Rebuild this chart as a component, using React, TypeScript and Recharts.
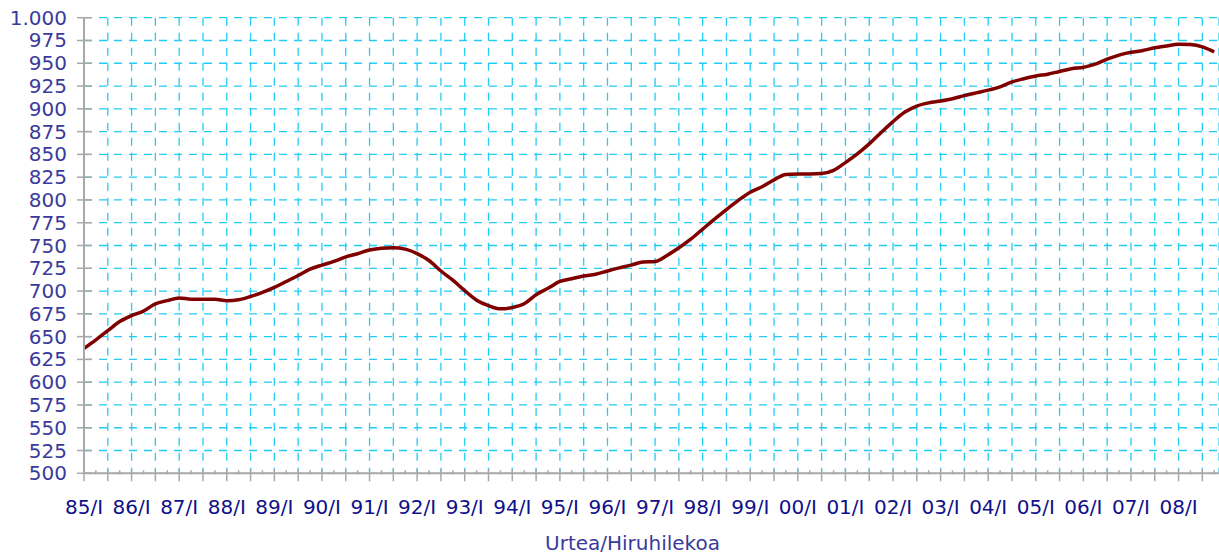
import { LineChart, Line, XAxis, YAxis, CartesianGrid } from 'recharts';

// quarterly series, 85/I .. 08/IV
const years = [
  '85', '86', '87', '88', '89', '90', '91', '92', '93', '94', '95', '96',
  '97', '98', '99', '00', '01', '02', '03', '04', '05', '06', '07', '08',
];
const quarterNames = ['I', 'II', 'III', 'IV'];

const indexValues = [
  637, 646.5, 656.5, 666.5, 673, 678, 686, 689.5,
  692.5, 691, 691, 691, 689.5, 690.5, 694, 698.5,
  704, 710.5, 717, 724, 728.5, 732.5, 737.5, 741,
  745, 747, 747.5, 746, 741, 733.5, 722, 712,
  700.5, 690, 684, 680.5, 682, 686, 696, 703,
  710.5, 713.5, 716.5, 718.5, 722, 725.5, 728.5, 732,
  732.5, 739, 747.5, 757, 768, 779, 789.5, 799.5,
  808.5, 814.5, 822, 828, 828.5, 828.5, 829, 832.5,
  841, 850.5, 861.5, 874, 886, 896.5, 903, 906.5,
  908.5, 911, 914.5, 917.5, 920.5, 924, 929.5, 933,
  936, 938, 941, 944, 945.5, 949, 954.5, 959,
  962, 964, 967, 969, 971, 970.5, 968, 962.5,
];

const yTicks = [
  500, 525, 550, 575, 600, 625, 650, 675, 700, 725, 750,
  775, 800, 825, 850, 875, 900, 925, 950, 975, 1000,
];

const data = indexValues.map((value, i) => ({
  idx: i,
  period: `${years[Math.floor(i / 4)]}/${quarterNames[i % 4]}`,
  value,
}));

const allTicks = data.map((d) => d.idx);
const gridTicks = allTicks.filter((t) => t % 2 === 0);

const FONT = '"DejaVu Sans", Verdana, sans-serif';
const AXIS_GRAY = '#a8a8a8';
const GRID_CYAN = '#22ccf5';

const fmt = (v: number) => String(v).replace(/\B(?=(\d{3})+(?!\d))/g, '.');

function QuarterTick({ x, y, payload }: any) {
  const i = payload.value as number;
  const major = i % 2 === 0;
  return (
    <g>
      <line
        x1={x}
        x2={x}
        y1={major ? y - 4 : y - 3}
        y2={major ? y + 8 : y + 1}
        stroke={AXIS_GRAY}
        strokeWidth={1.5}
      />
      {i % 4 === 0 && (
        <text
          x={x}
          y={y + 41}
          textAnchor="middle"
          fill="#10108a"
          fontSize={20}
          fontFamily={FONT}
        >
          {data[i].period}
        </text>
      )}
    </g>
  );
}

function ValueTick({ x, y, payload }: any) {
  return (
    <g>
      <line x1={x - 7} x2={x + 8} y1={y} y2={y} stroke={AXIS_GRAY} strokeWidth={1.5} />
      <text
        x={x - 17}
        y={y + 7}
        textAnchor="end"
        fill="#3a3a9c"
        fontSize={20}
        fontFamily={FONT}
      >
        {fmt(payload.value)}
      </text>
    </g>
  );
}

export default function App() {
  return (
    <div
      style={{
        position: 'absolute',
        left: 0,
        top: 0,
        width: 1219,
        height: 554,
        overflow: 'hidden',
        background: '#fff',
      }}
    >
      <LineChart
        width={1219}
        height={554}
        data={data}
        margin={{ top: 17.7, right: 0, bottom: 0, left: 0 }}
      >
        <CartesianGrid
          xAxisId="grid"
          stroke={GRID_CYAN}
          strokeWidth={1.3}
          strokeDasharray="8 7"
        />
        <XAxis
          xAxisId="grid"
          dataKey="idx"
          type="number"
          domain={[0, 95.4]}
          ticks={gridTicks}
          interval={0}
          hide
        />
        <XAxis
          dataKey="idx"
          type="number"
          domain={[0, 95.4]}
          ticks={allTicks}
          interval={0}
          height={80.7}
          tickSize={0}
          tickMargin={0}
          tickLine={false}
          axisLine={{ stroke: AXIS_GRAY, strokeWidth: 2 }}
          tick={<QuarterTick />}
          label={{
            value: 'Urtea/Hiruhilekoa',
            position: 'insideBottom',
            offset: 4,
            dx: -19,
            fill: '#3a3a9c',
            fontSize: 20,
            fontFamily: FONT,
          }}
        />
        <YAxis
          type="number"
          domain={[500, 1000]}
          ticks={yTicks}
          interval={0}
          width={84}
          tickSize={0}
          tickMargin={0}
          tickLine={false}
          axisLine={{ stroke: AXIS_GRAY, strokeWidth: 2 }}
          tick={<ValueTick />}
        />
        <Line
          type="monotone"
          dataKey="value"
          stroke="#800000"
          strokeWidth={3.5}
          dot={false}
          activeDot={false}
          isAnimationActive={false}
        />
      </LineChart>
    </div>
  );
}
